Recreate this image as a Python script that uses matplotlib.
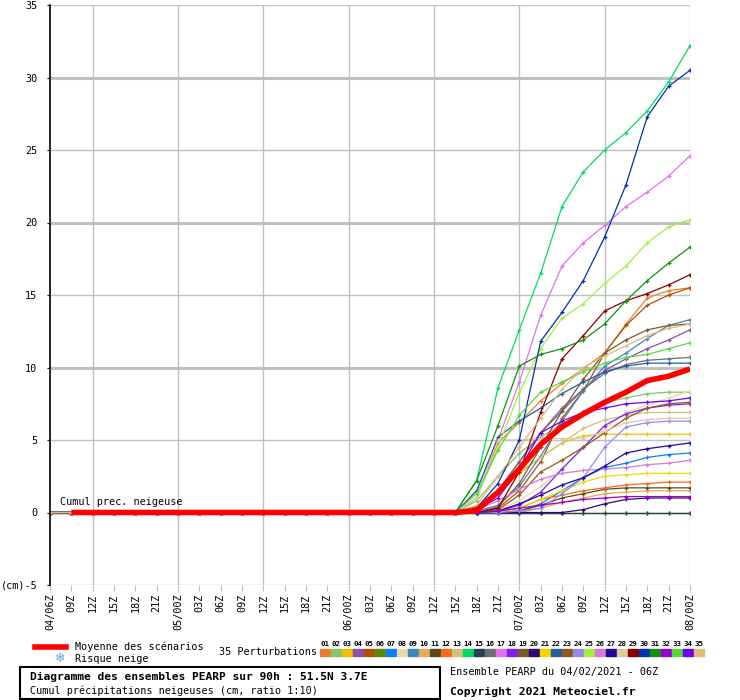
import numpy as np
import matplotlib
matplotlib.use("Agg")
import matplotlib.pyplot as plt
from matplotlib.patches import Rectangle
from matplotlib.lines import Line2D

# time axis: 04/06Z .. 08/00Z, every 3h (31 steps)
tick_labels = ["04/06Z", "09Z", "12Z", "15Z", "18Z", "21Z",
               "05/00Z", "03Z", "06Z", "09Z", "12Z", "15Z", "18Z", "21Z",
               "06/00Z", "03Z", "06Z", "09Z", "12Z", "15Z", "18Z", "21Z",
               "07/00Z", "03Z", "06Z", "09Z", "12Z", "15Z", "18Z", "21Z",
               "08/00Z"]

# member colours 01..35
colors = ["#E87F2F", "#85C46A", "#F0C000", "#8A4FA8", "#B0500A", "#5A8A0A", "#0A80FF",
          "#E8D8B0", "#3A8AC0", "#E8A85A", "#5A4A1A", "#F86A1A", "#D0C080", "#00DA60",
          "#284058", "#687078", "#E070F0", "#8020F0", "#7A5A2A", "#300870", "#F0D800",
          "#2060A0", "#905820", "#9A88E8", "#A0F040", "#D878D8", "#200898", "#E0C8A0",
          "#880000", "#0030B0", "#109010", "#9800D0", "#58D838", "#7000F8", "#E0B878"]

# values from 06/15Z to 08/00Z (before that every member is 0)
m01 = [0, 1.0, 4.8, 6.2, 7.7, 8.9, 9.9, 11.0, 13.0, 14.8, 15.3, 15.5]
m02 = [0, 0.8, 2.5, 4.1, 5.2, 6.1, 6.9, 7.6, 7.9, 8.2, 8.3, 8.3]
m03 = [0, 0.3, 1.3, 2.7, 3.8, 4.8, 5.3, 5.4, 5.4, 5.4, 5.4, 5.4]
m04 = [0, 0.4, 1.5, 3.5, 5.5, 7.0, 8.5, 9.8, 10.6, 11.3, 11.9, 12.6]
m05 = [0, 0, 0.3, 1.5, 3.5, 6.5, 8.4, 11.0, 12.9, 14.3, 15.0, 15.5]
m06 = [0, 0, 0, 0, 0, 0, 0, 0, 0, 0, 0, 0]
m07 = [0, 0, 0, 0.1, 0.6, 1.5, 2.4, 3.1, 3.4, 3.8, 4.0, 4.1]
m08 = [0, 0, 0.2, 0.8, 1.8, 3.0, 4.5, 5.8, 6.9, 7.4, 7.9, 8.4]
m09 = [0, 0.1, 0.5, 1.8, 3.9, 6.3, 8.4, 10.1, 11.0, 12.0, 12.9, 13.3]
m10 = [0, 0, 0, 0, 0.3, 0.7, 1.0, 1.3, 1.4, 1.5, 1.5, 1.5]
m11 = [0, 0, 0, 0.1, 0.5, 1.0, 1.3, 1.6, 1.7, 1.7, 1.7, 1.7]
m12 = [0, 0, 0, 0.3, 0.9, 1.2, 1.5, 1.7, 1.9, 2.0, 2.1, 2.1]
m13 = [0, 0.3, 1.5, 2.8, 3.8, 4.8, 5.8, 6.4, 6.7, 6.9, 6.9, 6.9]
m14 = [0, 2.2, 8.6, 12.6, 16.5, 21.1, 23.5, 25.0, 26.2, 27.7, 29.7, 32.2]
m15 = [0, 0, 0, 0, 0, 0, 0, 0, 0, 0, 0, 0]
m16 = [0, 0.2, 1.5, 3.5, 5.5, 7.2, 8.5, 9.6, 10.2, 10.5, 10.6, 10.7]
m17 = [0, 1.5, 5.0, 9.0, 13.6, 17.0, 18.6, 19.8, 21.1, 22.1, 23.2, 24.6]
m18 = [0, 0, 0.1, 0.5, 1.4, 3.0, 4.5, 6.0, 6.8, 7.2, 7.4, 7.5]
m19 = [0, 0, 0.4, 2.0, 4.5, 7.0, 9.2, 11.0, 11.9, 12.6, 12.9, 13.0]
m20 = [0, 0, 0, 0, 0, 0, 0.2, 0.6, 0.9, 1.0, 1.0, 1.0]
m21 = [0, 0, 0, 0.3, 0.9, 1.5, 2.1, 2.5, 2.6, 2.7, 2.7, 2.7]
m22 = [0, 1.5, 5.2, 6.3, 7.2, 8.2, 9.0, 9.7, 10.1, 10.3, 10.3, 10.3]
m23 = [0, 0, 0.2, 1.2, 2.8, 3.6, 4.5, 5.5, 6.5, 7.2, 7.5, 7.6]
m24 = [0, 0, 0, 0.1, 0.3, 1.3, 2.4, 4.5, 5.9, 6.2, 6.3, 6.3]
m25 = [0, 1.0, 4.5, 8.3, 11.3, 13.4, 14.4, 15.8, 17.0, 18.6, 19.7, 20.2]
m26 = [0, 0.2, 0.8, 1.6, 2.3, 2.7, 2.9, 3.0, 3.1, 3.3, 3.4, 3.6]
m27 = [0, 0, 0.1, 0.6, 1.2, 1.9, 2.4, 3.2, 4.1, 4.4, 4.6, 4.8]
m28 = [0, 1.0, 5.0, 5.0, 5.1, 5.1, 5.1, 5.6, 6.2, 6.4, 6.5, 6.5]
m29 = [0, 0, 0.3, 2.8, 6.9, 10.6, 12.2, 13.9, 14.6, 15.1, 15.7, 16.4]
m30 = [0, 0.3, 2.0, 5.0, 11.8, 13.8, 16.0, 19.0, 22.6, 27.3, 29.4, 30.5]
m31 = [0, 2.2, 6.0, 10.1, 10.9, 11.3, 11.9, 13.0, 14.6, 16.0, 17.2, 18.3]
m32 = [0, 0, 0.1, 0.3, 0.5, 0.7, 0.9, 1.0, 1.1, 1.1, 1.1, 1.1]
m33 = [0, 1.3, 4.3, 6.7, 8.3, 9.0, 9.7, 10.3, 10.7, 10.9, 11.3, 11.7]
m34 = [0, 0.2, 1.0, 3.0, 5.5, 6.3, 6.9, 7.2, 7.5, 7.6, 7.7, 7.9]
m35 = [0, 0.5, 2.5, 4.5, 6.5, 8.5, 10.0, 10.8, 11.5, 12.2, 12.7, 13.0]
mean = [0, 0.15, 1.4, 3.0, 4.7, 5.9, 6.8, 7.6, 8.3, 9.1, 9.4, 9.9]

members = [m01, m02, m03, m04, m05, m06, m07, m08, m09, m10, m11, m12, m13, m14, m15, m16, m17,
           m18, m19, m20, m21, m22, m23, m24, m25, m26, m27, m28, m29, m30, m31, m32, m33, m34, m35]

W, H = 740, 700
fig = plt.figure(figsize=(W / 100, H / 100), dpi=100)
ax = fig.add_axes([50 / W, 1 - 585 / H, 640 / W, 580 / H])
mono = "DejaVu Sans Mono"
fs = 7.3

x = np.arange(len(tick_labels))
lead = [0.0] * (len(x) - len(mean))

# grid
for v in range(-5, 36, 5):
    ax.axhline(v, color="#C0C0C0", lw=2.2 if v % 10 == 0 and v > 0 else 1.0, zorder=0)
for i in range(len(x)):
    if i % 4 == 2:
        ax.axvline(i, color="#C0C0C0", lw=1.0, zorder=0)

for c, m in zip(colors, members):
    ax.plot(x, lead + m, color=c, lw=0.9, marker="+", ms=3.5, mew=0.9, zorder=2)
# the mean is drawn from 04/09Z on
ax.plot(x[1:], (lead + mean)[1:], color="#FF0000", lw=4, solid_capstyle="butt", zorder=3)

ax.set_xlim(0, 30)
ax.set_ylim(-5, 35)
for s in ["top", "right", "bottom"]:
    ax.spines[s].set_visible(False)
ax.spines["left"].set_color("black")
ax.spines["left"].set_linewidth(1.2)
ax.set_yticks(range(-5, 36, 5))
ax.set_yticklabels(["(cm)-5"] + [str(v) for v in range(0, 36, 5)], family=mono, fontsize=fs)
ax.tick_params(axis="y", length=2, pad=7)
ax.set_xticks(x)
ax.set_xticklabels(tick_labels, rotation=90, family=mono, fontsize=fs, va="top")
ax.tick_params(axis="x", length=4, color="#C0C0C0", pad=2)
ax.text(10 / 640 * 30, 0.35, "Cumul prec. neigeuse", family=mono, fontsize=fs, va="bottom")

def px(xp, yp):
    return xp / W, 1 - yp / H

# legend
fig.add_artist(Line2D([35 / W, 66 / W], [1 - 647 / H] * 2, color="#FF0000", lw=4))
fig.text(*px(75, 647), "Moyenne des scénarios", family=mono, fontsize=fs, va="center")
fig.text(*px(60, 658), "\u2744", family="DejaVu Sans", fontsize=9, color="#5BA8E0",
         va="center", ha="center")
fig.text(*px(75, 659), "Risque neige", family=mono, fontsize=fs, va="center")
fig.text(*px(219, 652), "35 Perturbations", family=mono, fontsize=fs, va="center")
for k, c in enumerate(colors):
    x0 = 320 + k * 11
    fig.add_artist(Rectangle(px(x0, 656), 10 / W, 7 / H, color=c, transform=fig.transFigure))
    fig.text(*px(x0 + 5, 644), "%02d" % (k + 1), family=mono, fontsize=5.3,
             fontweight="bold", ha="center", va="center")

# title box
fig.add_artist(Rectangle(px(20, 699), 420 / W, 32 / H, fill=False, ec="black", lw=1.5,
                         transform=fig.transFigure))
fig.text(*px(30, 677), "Diagramme des ensembles PEARP sur 90h : 51.5N 3.7E",
         family=mono, fontsize=8.1, fontweight="bold", va="center")
fig.text(*px(30, 691), "Cumul précipitations neigeuses (cm, ratio 1:10)",
         family=mono, fontsize=fs, va="center")
fig.text(*px(450, 672), "Ensemble PEARP du 04/02/2021 - 06Z", family=mono, fontsize=fs, va="center")
fig.text(*px(450, 692), "Copyright 2021 Meteociel.fr", family=mono, fontsize=8.2,
         fontweight="bold", va="center")

fig.savefig("out.png", dpi=100)
